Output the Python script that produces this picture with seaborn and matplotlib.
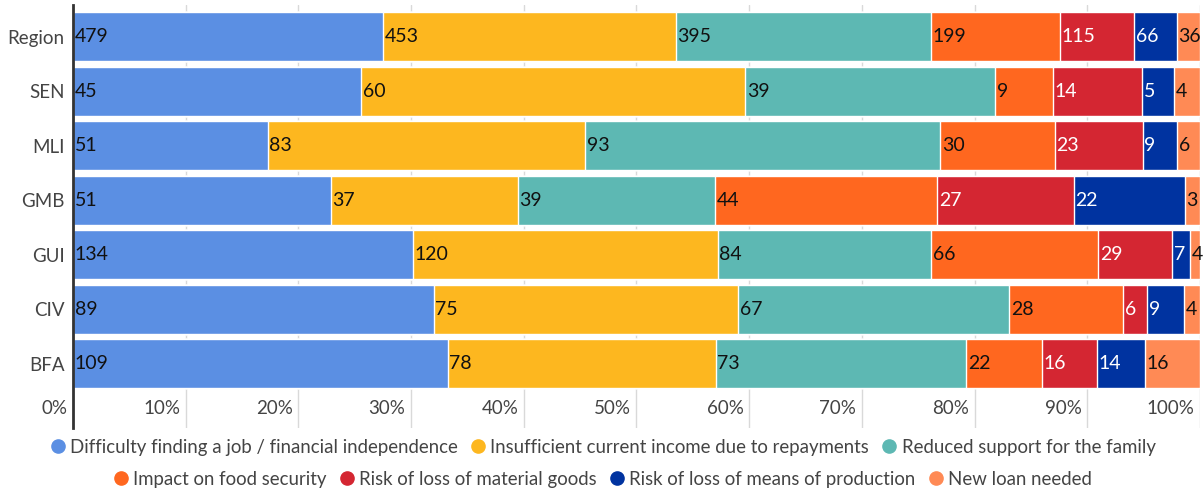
import numpy as np
import pandas as pd
import matplotlib
matplotlib.use("Agg")
import matplotlib.pyplot as plt
import matplotlib.transforms as mtransforms
from matplotlib.lines import Line2D
import seaborn as sns

categories = ["Region", "SEN", "MLI", "GMB", "GUI", "CIV", "BFA"]
series_names = [
    "Difficulty finding a job / financial independence",
    "Insufficient current income due to repayments",
    "Reduced support for the family",
    "Impact on food security",
    "Risk of loss of material goods",
    "Risk of loss of means of production",
    "New loan needed",
]
job = [479, 45, 51, 51, 134, 89, 109]
income = [453, 60, 83, 37, 120, 75, 78]
family = [395, 39, 93, 39, 84, 67, 73]
food = [199, 9, 30, 44, 66, 28, 22]
goods = [115, 14, 23, 27, 29, 6, 16]
production = [66, 5, 9, 22, 7, 9, 14]
new_loan = [36, 4, 6, 3, 4, 4, 16]
tick_labels = ["0%", "10%", "20%", "30%", "40%", "50%", "60%", "70%", "80%", "90%", "100%"]

colors = ["#5B8FE3", "#FDB71F", "#5DB8B3", "#FF671F", "#D42632", "#0033A0", "#FF8A55"]
text_colors = ["#111111", "#111111", "#111111", "#111111", "white", "white", "#111111"]

sns.set_theme(style="white")
plt.rcParams["font.family"] = ["Lato", "DejaVu Sans"]

counts = np.array([job, income, family, food, goods, production, new_loan], dtype=float)
pct = counts / counts.sum(axis=0) * 100
cum = np.cumsum(pct, axis=0)
starts = cum - pct

fig = plt.figure(figsize=(12.04, 4.90), dpi=100)
ax = fig.add_axes([0.0606, 0.1265, 0.9361, 0.8633])

# Cumulative bars drawn from the outermost layer inwards give the stacked look
for i in reversed(range(len(series_names))):
    df = pd.DataFrame({"cat": categories, "val": cum[i]})
    sns.barplot(data=df, x="val", y="cat", orient="h", color=colors[i],
                saturation=1, width=0.9, ax=ax, zorder=2)

# Value labels at the left edge of each segment
label_shift = mtransforms.ScaledTranslation(1.2 / 72, 0, fig.dpi_scale_trans)
for i in range(len(series_names)):
    for j, cat in enumerate(categories):
        ax.text(starts[i, j], j, f"{int(counts[i, j])}", ha="left", va="center",
                fontsize=14, color=text_colors[i], zorder=3,
                transform=ax.transData + label_shift)

ax.set_xlim(0, 100)
ax.set_ylim(7.18, -0.58)
ax.set_xlabel("")
ax.set_ylabel("")

ax.set_xticks(np.arange(0, 101, 10))
ax.set_xticklabels(tick_labels)
ax.tick_params(axis="x", length=0, pad=-20, labelsize=13.5, labelcolor="#444444")
ax.tick_params(axis="y", length=0, pad=6, labelsize=13.5, labelcolor="#444444")
offset = mtransforms.ScaledTranslation(-4 / 72, 0, fig.dpi_scale_trans)
for lab in ax.get_xticklabels():
    lab.set_ha("right")
    lab.set_transform(lab.get_transform() + offset)

ax.grid(axis="x", color="#d9d9d9", linewidth=1, zorder=0)
ax.set_axisbelow(True)
for side in ["top", "right", "bottom"]:
    ax.spines[side].set_visible(False)
ax.spines["left"].set_color("#333333")
ax.spines["left"].set_linewidth(2)

handles = [Line2D([0], [0], marker="o", linestyle="none", markersize=9.5,
                  markerfacecolor=c, markeredgecolor=c) for c in colors]
leg_kw = dict(frameon=False, fontsize=13.4, handletextpad=0.15, columnspacing=0.6,
              labelcolor="#444444", handlelength=1.0, borderaxespad=0)
leg1 = fig.legend(handles[:3], series_names[:3], ncol=3, loc="center",
                  bbox_to_anchor=(0.5, 1 - 447 / 490), **leg_kw)
leg2 = fig.legend(handles[3:], series_names[3:], ncol=4, loc="center",
                  bbox_to_anchor=(0.5, 1 - 479 / 490), **leg_kw)

fig.savefig("out.png", dpi=100)
